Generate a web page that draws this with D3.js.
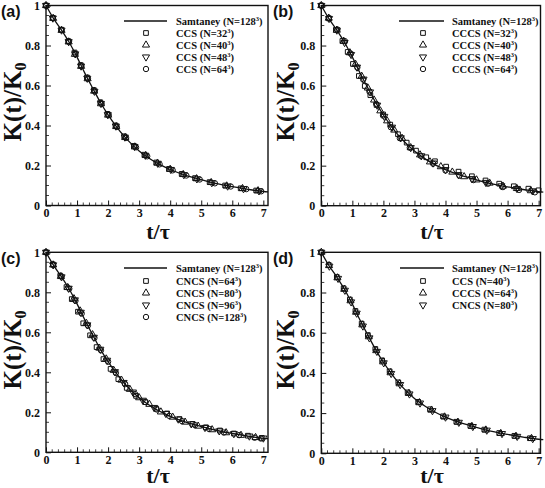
<!DOCTYPE html>
<html><head><meta charset="utf-8">
<script src="https://cdn.jsdelivr.net/npm/d3@7"></script>
<style>body{margin:0;background:#fff}svg{display:block}</style>
</head><body>
<script>
// ---------------- DATA ----------------
const xTicks = [0,1,2,3,4,5,6,7];
const yTicks = [0,0.2,0.4,0.6,0.8,1];
const yTickLabels = ["0","0.2","0.4","0.6","0.8","1"];

// Reference solution (Samtaney, N=128^3)
const samT = [0,0.25,0.5,0.75,1,1.25,1.5,1.75,2,2.25,2.5,2.75,3,3.25,3.5,3.75,4,4.5,5,5.5,6,6.5,7,7.15];
const samK = [1,0.933,0.877,0.815,0.742,0.662,0.588,0.516,0.453,0.398,0.349,0.308,0.273,0.244,0.219,0.198,0.180,0.151,0.129,0.109,0.094,0.081,0.070,0.068];

// Panel (a): CCS
const aNames = ["CCS (N=32","CCS (N=40","CCS (N=48","CCS (N=64"];
const a1T = [0,0.22,0.49,0.72,0.92,1.12,1.32,1.54,1.75,1.98,2.24,2.52,2.83,3.17,3.55,3.96,4.37,4.80,5.27,5.77,6.27,6.77];
const a1K = [1,0.938,0.879,0.822,0.765,0.702,0.640,0.577,0.516,0.458,0.400,0.346,0.298,0.254,0.215,0.183,0.158,0.137,0.117,0.100,0.086,0.075];
const a2T = [0,0.23,0.50,0.73,0.93,1.13,1.34,1.55,1.77,2.00,2.26,2.55,2.86,3.21,3.59,4.00,4.42,4.85,5.32,5.82,6.33,6.83];
const a2K = [1,0.936,0.876,0.818,0.756,0.696,0.634,0.572,0.509,0.452,0.395,0.340,0.293,0.250,0.212,0.181,0.155,0.134,0.115,0.098,0.085,0.074];
const a3T = [0,0.22,0.50,0.73,0.94,1.13,1.33,1.56,1.77,1.99,2.25,2.54,2.85,3.20,3.60,4.02,4.44,4.86,5.34,5.85,6.36,6.86];
const a3K = [1,0.937,0.877,0.819,0.758,0.697,0.636,0.571,0.510,0.454,0.397,0.342,0.295,0.251,0.211,0.180,0.154,0.133,0.114,0.097,0.084,0.073];
const a4T = [0,0.22,0.50,0.74,0.95,1.14,1.35,1.57,1.79,2.02,2.28,2.58,2.90,3.26,3.66,4.08,4.52,4.95,5.44,5.95,6.45,6.93];
const a4K = [1,0.937,0.878,0.819,0.758,0.696,0.634,0.571,0.508,0.452,0.393,0.338,0.291,0.246,0.206,0.176,0.150,0.130,0.111,0.095,0.082,0.071];

// Panel (b): CCCS
const bNames = ["CCCS (N=32","CCCS (N=40","CCCS (N=48","CCCS (N=64"];
const b1T = [0,0.25,0.47,0.68,0.85,1.02,1.21,1.40,1.58,1.78,1.99,2.22,2.47,2.75,3.05,3.38,3.66,4.02,4.42,4.85,5.29,5.73,6.20,6.67,7.0];
const b1K = [1,0.935,0.878,0.823,0.768,0.708,0.648,0.598,0.552,0.503,0.456,0.405,0.357,0.315,0.275,0.242,0.222,0.195,0.170,0.147,0.126,0.110,0.097,0.085,0.077];
const b2T = [0,0.24,0.50,0.72,0.92,1.10,1.30,1.50,1.70,1.90,2.12,2.35,2.60,2.88,3.18,3.50,3.85,4.22,4.60,5.00,5.42,5.85,6.30,6.75];
const b2K = [1,0.937,0.877,0.822,0.764,0.707,0.647,0.588,0.528,0.474,0.424,0.378,0.337,0.290,0.254,0.219,0.195,0.168,0.145,0.129,0.113,0.098,0.086,0.075];
const b3T = [0,0.25,0.50,0.75,0.96,1.15,1.36,1.57,1.80,2.03,2.28,2.56,2.88,3.22,3.60,4.00,4.42,4.85,5.30,5.80,6.30,6.80];
const b3K = [1,0.935,0.877,0.815,0.755,0.692,0.632,0.568,0.502,0.446,0.392,0.339,0.290,0.249,0.213,0.180,0.155,0.135,0.116,0.099,0.086,0.074];
const b4T = [0,0.24,0.52,0.76,0.95,1.16,1.35,1.55,1.77,1.99,2.24,2.53,2.85,3.20,3.60,4.00,4.45,4.90,5.37,5.85,6.37,6.88];
const b4K = [1,0.938,0.880,0.822,0.760,0.690,0.630,0.570,0.508,0.450,0.392,0.337,0.290,0.249,0.210,0.176,0.150,0.128,0.110,0.093,0.079,0.067];

// Panel (c): CNCS
const cNames = ["CNCS (N=64","CNCS (N=80","CNCS (N=96","CNCS (N=128"];
const c1T = [0,0.22,0.46,0.66,0.83,1.03,1.20,1.42,1.63,1.85,2.08,2.33,2.60,2.90,3.20,3.55,3.90,4.30,4.72,5.15,5.60,6.05,6.50,6.95];
const c1K = [1,0.940,0.883,0.826,0.766,0.703,0.645,0.585,0.526,0.466,0.417,0.366,0.322,0.282,0.251,0.218,0.194,0.166,0.142,0.125,0.109,0.094,0.083,0.072];
const c2T = [0,0.23,0.48,0.70,0.90,1.10,1.30,1.50,1.72,1.94,2.18,2.43,2.70,3.00,3.33,3.70,4.08,4.48,4.90,5.35,5.80,6.28,6.75];
const c2K = [1,0.937,0.879,0.824,0.768,0.707,0.645,0.588,0.521,0.467,0.410,0.361,0.315,0.273,0.240,0.202,0.176,0.151,0.131,0.113,0.098,0.085,0.074];
const c3T = [0,0.23,0.50,0.73,0.93,1.12,1.33,1.54,1.75,1.97,2.22,2.50,2.80,3.12,3.48,3.86,4.26,4.68,5.12,5.58,6.05,6.55,7.00];
const c3K = [1,0.937,0.877,0.820,0.762,0.700,0.637,0.575,0.515,0.460,0.403,0.349,0.301,0.260,0.224,0.194,0.166,0.142,0.124,0.107,0.093,0.081,0.071];
const c4T = [0,0.23,0.50,0.75,0.95,1.15,1.35,1.56,1.77,2.00,2.25,2.55,2.87,3.20,3.57,3.97,4.38,4.80,5.25,5.73,6.22,6.72,6.92];
const c4K = [1,0.937,0.878,0.818,0.758,0.694,0.634,0.572,0.510,0.453,0.397,0.341,0.291,0.251,0.214,0.182,0.156,0.136,0.117,0.099,0.086,0.073,0.069];

// Panel (d): comparison
const dNames = ["CCS (N=40","CCCS (N=64","CNCS (N=80"];
const d1T = [0,0.24,0.50,0.72,0.92,1.10,1.30,1.50,1.74,1.96,2.20,2.48,2.78,3.12,3.50,3.92,4.35,4.80,5.25,5.73,6.22,6.72];
const d1K = [1,0.937,0.877,0.821,0.765,0.708,0.645,0.588,0.519,0.462,0.408,0.353,0.303,0.256,0.219,0.184,0.157,0.137,0.118,0.101,0.087,0.075];
const d2T = [0,0.25,0.52,0.74,0.94,1.12,1.32,1.53,1.77,1.99,2.23,2.52,2.82,3.16,3.55,3.97,4.40,4.85,5.30,5.78,6.27,6.77];
const d2K = [1,0.934,0.873,0.816,0.759,0.702,0.639,0.580,0.511,0.455,0.401,0.346,0.298,0.252,0.215,0.181,0.155,0.134,0.116,0.099,0.085,0.074];
const d3T = [0,0.26,0.54,0.76,0.96,1.14,1.34,1.55,1.79,2.01,2.25,2.54,2.84,3.18,3.58,4.00,4.43,4.88,5.33,5.82,6.31,6.81];
const d3K = [1,0.931,0.870,0.811,0.753,0.697,0.633,0.574,0.507,0.450,0.397,0.342,0.295,0.250,0.212,0.180,0.154,0.133,0.115,0.098,0.084,0.073];

// ---------------- LAYOUT ----------------
const W = 545, H = 488;
const zip = (T, K) => T.map((t, i) => ({t, k: K[i]}));
const shapes = ["square","triangle","tridown","circle"];

const panels = [
  {label:"(a)", lx:1, ly:17, left:46, right:268, top:5.5, bottom:205.5, xmax:7.15,
   leg:{x1:124,x2:167,sx:146,tx:176,y:[21,33,45,57,69]}, names:aNames,
   series:[zip(a1T,a1K),zip(a2T,a2K),zip(a3T,a3K),zip(a4T,a4K)], xl:{x:158,y:238.5}, yl:{x:20.5,y:102}},
  {label:"(b)", lx:273, ly:17, left:321.3, right:540.5, top:5.5, bottom:205.7, xmax:7.06,
   leg:{x1:399,x2:444,sx:423,tx:452,y:[21,33,45,57,69]}, names:bNames,
   series:[zip(b1T,b1K),zip(b2T,b2K),zip(b3T,b3K),zip(b4T,b4K)], xl:{x:432,y:238.5}, yl:{x:294,y:102}},
  {label:"(c)", lx:1, ly:264, left:46, right:268, top:252.3, bottom:452.3, xmax:7.15,
   leg:{x1:124,x2:167,sx:146,tx:176,y:[268,281,293,305,317]}, names:cNames,
   series:[zip(c1T,c1K),zip(c2T,c2K),zip(c3T,c3K),zip(c4T,c4K)], xl:{x:158,y:483}, yl:{x:20.5,y:350}},
  {label:"(d)", lx:273, ly:264, left:321.3, right:540.5, top:252.3, bottom:453.3, xmax:7.06,
   leg:{x1:400,x2:444,sx:423,tx:452,y:[268,281,293,305]}, names:dNames,
   series:[zip(d1T,d1K),zip(d2T,d2K),zip(d3T,d3K)], xl:{x:432,y:483}, yl:{x:294,y:350}}
];

const svg = d3.select("body").append("svg").attr("width", W).attr("height", H)
  .attr("viewBox", `0 0 ${W} ${H}`);
svg.append("rect").attr("width", W).attr("height", H).attr("fill", "#fff");

const serif = "'Liberation Serif','Times New Roman',serif";
const sans = "'Liberation Sans',Arial,sans-serif";

function drawMarker(g, shape, x, y) {
  if (shape === "circle") {
    g.append("circle").attr("cx", x).attr("cy", y).attr("r", 2.7)
      .attr("fill", "none").attr("stroke", "#111").attr("stroke-width", 1);
  } else {
    const type = shape === "square" ? d3.symbolSquare : d3.symbolTriangle;
    g.append("path").attr("d", d3.symbol().type(type).size(22)())
      .attr("transform", `translate(${x},${y})` + (shape === "tridown" ? " rotate(180)" : ""))
      .attr("fill", "none").attr("stroke", "#111").attr("stroke-width", 1);
  }
}

panels.forEach(p => {
  const g = svg.append("g");
  const x = d3.scaleLinear().domain([0, p.xmax]).range([p.left, p.right]);
  const y = d3.scaleLinear().domain([0, 1]).range([p.bottom, p.top]);

  const xMinor = d3.range(0, 7.01, 0.2).filter(v => Math.abs(v - Math.round(v)) > 1e-6);
  const yMinor = d3.range(0, 1.001, 0.05).filter(v => Math.abs(v*5 - Math.round(v*5)) > 1e-6);

  const xAxis = d3.axisBottom(x).tickValues(xTicks).tickSizeInner(-5).tickSizeOuter(0).tickPadding(3)
    .tickFormat(d3.format("d"));
  const gx = g.append("g").attr("transform", `translate(0,${p.bottom})`).call(xAxis);
  gx.select(".domain").remove();
  gx.selectAll("text").attr("font-family", serif).attr("font-weight", "bold").attr("font-size", 12).attr("fill", "#111");
  gx.selectAll("line").attr("stroke", "#111");
  g.append("g").selectAll("line").data(xMinor).join("line")
    .attr("x1", d => x(d)).attr("x2", d => x(d)).attr("y1", p.bottom).attr("y2", p.bottom - 3)
    .attr("stroke", "#111").attr("stroke-width", 0.8);

  const yAxis = d3.axisLeft(y).tickValues(yTicks).tickSizeInner(-5).tickSizeOuter(0).tickPadding(6)
    .tickFormat((d, i) => yTickLabels[i]);
  const gy = g.append("g").attr("transform", `translate(${p.left},0)`).call(yAxis);
  gy.select(".domain").remove();
  gy.selectAll("text").attr("font-family", serif).attr("font-weight", "bold").attr("font-size", 12).attr("fill", "#111");
  gy.selectAll("line").attr("stroke", "#111");
  g.append("g").selectAll("line").data(yMinor).join("line")
    .attr("x1", p.left).attr("x2", p.left + 3).attr("y1", d => y(d)).attr("y2", d => y(d))
    .attr("stroke", "#111").attr("stroke-width", 0.8);

  g.append("rect").attr("x", p.left).attr("y", p.top).attr("width", p.right - p.left)
    .attr("height", p.bottom - p.top).attr("fill", "none").attr("stroke", "#111").attr("stroke-width", 1.4);

  const line = d3.line().x(d => x(d.t)).y(d => y(d.k)).curve(d3.curveMonotoneX);
  g.append("path").datum(zip(samT, samK)).attr("d", line)
    .attr("fill", "none").attr("stroke", "#111").attr("stroke-width", 1.3);

  p.series.forEach((s, i) => {
    const gs = g.append("g");
    s.forEach(d => drawMarker(gs, shapes[i], x(d.t), y(d.k)));
  });

  const L = p.leg;
  g.append("line").attr("x1", L.x1).attr("x2", L.x2).attr("y1", L.y[0]).attr("y2", L.y[0])
    .attr("stroke", "#111").attr("stroke-width", 1.3);
  const entries = [["Samtaney (N=128", null]].concat(p.names.map((n, i) => [n, shapes[i]]));
  entries.forEach((e, i) => {
    const yy = L.y[i];
    if (e[1]) drawMarker(g, e[1], L.sx, yy);
    const t = g.append("text").attr("x", L.tx).attr("y", yy + 3.8)
      .attr("font-family", serif).attr("font-weight", "bold").attr("font-size", 10.5).attr("fill", "#111");
    t.append("tspan").text(e[0]);
    t.append("tspan").attr("dy", -4).attr("font-size", 6.5).text("3");
    t.append("tspan").attr("dy", 4).text(")");
  });

  svg.append("text").attr("x", p.lx).attr("y", p.ly).attr("font-family", sans)
    .attr("font-weight", "bold").attr("font-size", 16).attr("fill", "#111").text(p.label);

  svg.append("text").attr("x", p.xl.x).attr("y", p.xl.y).attr("text-anchor", "middle")
    .attr("font-family", serif).attr("font-weight", "bold").attr("font-size", 22).attr("fill", "#111")
    .text("t/τ");

  const yt = svg.append("text").attr("transform", `translate(${p.yl.x},${p.yl.y}) rotate(-90)`)
    .attr("text-anchor", "middle")
    .attr("font-family", serif).attr("font-weight", "bold").attr("font-size", 25).attr("fill", "#111");
  yt.append("tspan").text("K(t)/K");
  yt.append("tspan").attr("dy", 5).attr("font-size", 16).text("0");
});
</script>
</body></html>
